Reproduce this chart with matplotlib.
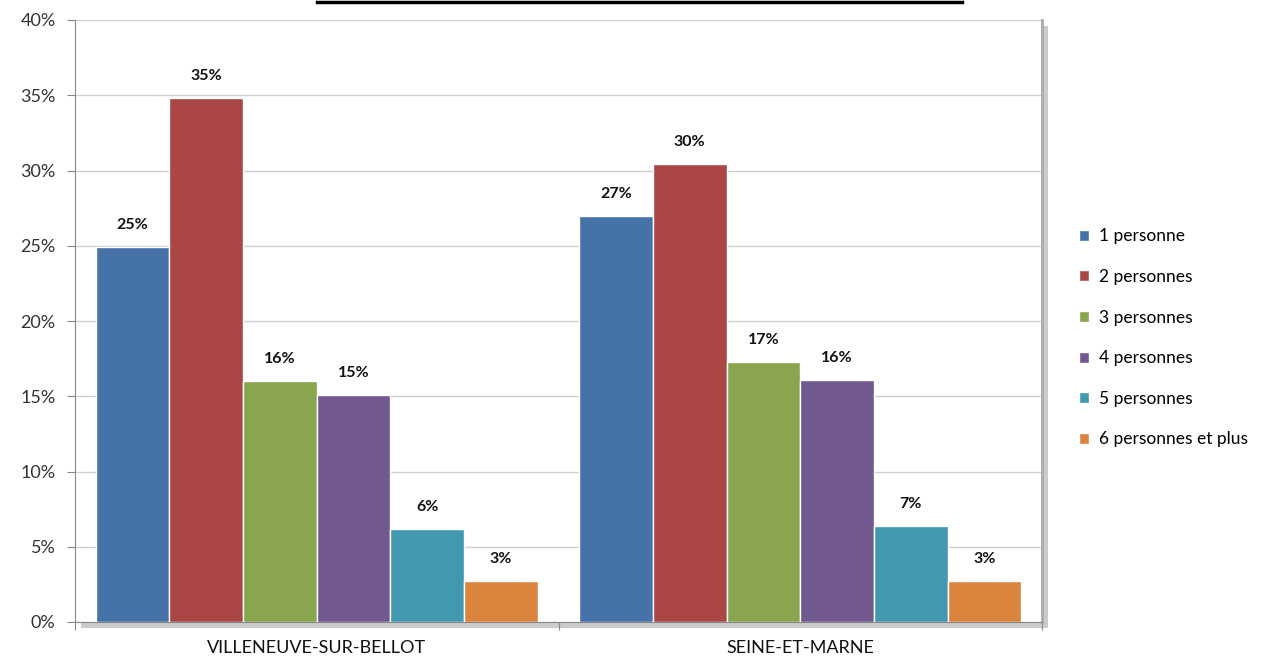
import matplotlib.pyplot as plt
import matplotlib.patheffects as pe
from matplotlib.lines import Line2D
import numpy as np

plt.rcParams['font.family'] = ['Lato', 'DejaVu Sans']

territoires = ['VILLENEUVE-SUR-BELLOT', 'SEINE-ET-MARNE']
series = ['1 personne', '2 personnes', '3 personnes', '4 personnes',
          '5 personnes', '6 personnes et plus']
colors = ['#4572A7', '#AA4643', '#89A54E', '#71588F', '#4198AF', '#DB843D']

villeneuve = [24.9, 34.8, 16.0, 15.1, 6.2, 2.7]
seine_et_marne = [27.0, 30.4, 17.3, 16.1, 6.4, 2.7]
labels_villeneuve = ['25%', '35%', '16%', '15%', '6%', '3%']
labels_sem = ['27%', '30%', '17%', '16%', '7%', '3%']

values = np.array([villeneuve, seine_et_marne])
labels = [labels_villeneuve, labels_sem]

fig = plt.figure(figsize=(12.77, 6.64), dpi=100)
ax = fig.add_axes([75 / 1277, 1 - 622 / 664, (1042 - 75) / 1277, (622 - 20) / 664])

x = np.arange(len(territoires))
w = 0.915 / 6
for i, name in enumerate(series):
    pos = x - 0.4575 + w * (i + 0.5)
    bars = ax.bar(pos, values[:, i], width=w, color=colors[i],
                  edgecolor='white', linewidth=1, label=name, zorder=3)
    for j, b in enumerate(bars):
        ax.text(b.get_x() + b.get_width() / 2, b.get_height() + 1.0,
                labels[j][i], ha='center', va='bottom',
                fontsize=11.5, fontweight='bold', color='#111111')

ax.set_xlim(-0.5, 1.5)
ax.set_ylim(0, 40)
ax.set_yticks(range(0, 41, 5))
ax.set_yticklabels(['%d%%' % v for v in range(0, 41, 5)], fontsize=13, color='#333333')
ax.grid(axis='y', color='#d0d0d0', linewidth=1, zorder=0)

ax.set_xticks([-0.5, 0.5, 1.5])
ax.set_xticklabels(['', '', ''])
ax.set_xticks(x, minor=True)
ax.set_xticklabels(territoires, minor=True, fontsize=13, color='#111111')
ax.tick_params(axis='x', which='minor', length=0, pad=13)
ax.tick_params(axis='x', which='major', length=6, color='#888888', direction='out')
ax.tick_params(axis='y', length=6, color='#888888', pad=8)

ax.spines['top'].set_visible(False)
ax.spines['left'].set_color('#888888')
ax.spines['bottom'].set_color('#888888')
ax.spines['right'].set_color('#aaaaaa')
ax.spines['right'].set_linewidth(2)
ax.patch.set_path_effects([pe.SimplePatchShadow(offset=(4, -4), shadow_rgbFace='#999999', alpha=0.5), pe.Normal()])

leg = ax.legend(loc='center left', bbox_to_anchor=(1.022, 0.472), frameon=False,
                fontsize=12.5, handlelength=0.6, handleheight=0.6,
                handletextpad=0.55, labelspacing=1.42)

fig.add_artist(Line2D([317 / 1277, 962 / 1277], [1 - 1.5 / 664, 1 - 1.5 / 664],
                      color='black', linewidth=2.5, transform=fig.transFigure))

fig.savefig('out.png', dpi=100)
